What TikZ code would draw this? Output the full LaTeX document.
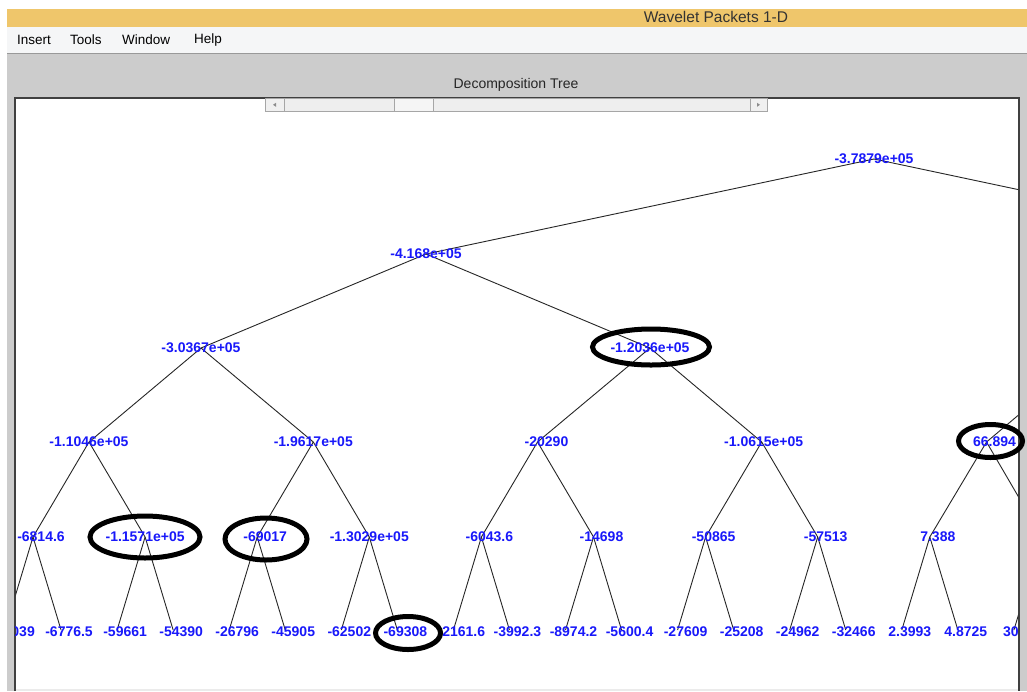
\documentclass[tikz,border=0pt]{standalone}
\usepackage{fontspec}
\setmainfont{Liberation Sans}
\definecolor{titlebar}{RGB}{239,198,107}
\definecolor{menubar}{RGB}{245,246,247}
\definecolor{panel}{RGB}{204,204,204}
\definecolor{labelblue}{RGB}{24,24,250}
\definecolor{scrollfill}{RGB}{238,238,238}
\tikzset{
  lbl/.style={text=labelblue, font=\fontsize{14}{16}\selectfont\bfseries, inner sep=0pt},
  menuitem/.style={anchor=west, inner sep=0pt, text=black, font=\fontsize{13.5}{16}\selectfont},
  branch/.style={draw=black!85, line width=0.9pt},
  mark ring/.style={draw=black, line width=5pt},
  frame/.style={draw=black!75, line width=1.4pt},
  scrollpart/.style={draw=black!35, fill=scrollfill, line width=0.8pt},
}
\begin{document}
\begin{tikzpicture}[x=1pt,y=-1pt]
\useasboundingbox (0,0) rectangle (1027,691);
\fill[white] (0,0) rectangle (1027,691);

% window chrome: title bar, menu bar, grey panel
\fill[titlebar] (7,9) rectangle (1027,27);
\node[inner sep=0pt, text=black!80, font=\fontsize{15.5}{18}\selectfont] (wintitle) at (716,17) {Wavelet Packets 1-D};
\fill[menubar] (7,27) rectangle (1027,53);
\node[menuitem] (mInsert) at (17,40) {Insert};
\node[menuitem] (mTools) at (70,40) {Tools};
\node[menuitem] (mWindow) at (122,40) {Window};
\node[menuitem] (mHelp) at (194,40) {Help};
\draw[black!40, line width=1pt] (7,53) -- (1027,53);
\fill[panel] (7,54) rectangle (1027,691);
\node[inner sep=0pt, text=black!85, font=\fontsize{14}{16}\selectfont] (axtitle) at (516,85) {Decomposition Tree};

% axes area
\fill[white] (15,98) rectangle (1019,689);
\fill[black!8] (15,689) rectangle (1019,691);
\draw[frame] (15,691) -- (15,98) -- (1019,98) -- (1019,691);

% horizontal slider above the tree
\draw[scrollpart] (265,98.5) rectangle (767,111);
\draw[scrollpart, fill=black!6] (265,98.5) rectangle (284,111);
\draw[scrollpart, fill=black!6] (750,98.5) rectangle (767,111);
\draw[scrollpart, fill=black!4] (394,98.5) rectangle (433,111);
\fill[black!45] (273,104.8) -- (276,102.8) -- (276,106.8) -- cycle;
\fill[black!45] (760,104.8) -- (757,102.8) -- (757,106.8) -- cycle;

% tree vertices (level 0 .. 5)
\coordinate (r) at (874,159);
\coordinate (a1) at (426,254);
\coordinate (a2) at (1322,254);
\coordinate (b1) at (201,348);
\coordinate (b2) at (650,348);
\coordinate (b3) at (1098,348);
\coordinate (c1) at (89,442);
\coordinate (c2) at (313.3,442);
\coordinate (c3) at (537.5,442);
\coordinate (c4) at (761.7,442);
\coordinate (c5) at (986.5,442);
\foreach \i in {0,...,9} {
  \coordinate (d\i) at ({33+112.1*\i},537);
}
\foreach \j in {0,...,19} {
  \coordinate (e\j) at ({5+56.05*\j},630);
}

\begin{scope}
\clip (15.7,98.7) rectangle (1018.3,688.5);
% branches
\draw[branch] (r) -- (a1);
\draw[branch] (r) -- (a2);
\draw[branch] (a1) -- (b1);
\draw[branch] (a1) -- (b2);
\draw[branch] (b3) -- (c5);
\draw[branch] (b1) -- (c1);
\draw[branch] (b1) -- (c2);
\draw[branch] (b2) -- (c3);
\draw[branch] (b2) -- (c4);
\draw[branch] (c1) -- (d0);
\draw[branch] (c1) -- (d1);
\draw[branch] (c2) -- (d2);
\draw[branch] (c2) -- (d3);
\draw[branch] (c3) -- (d4);
\draw[branch] (c3) -- (d5);
\draw[branch] (c4) -- (d6);
\draw[branch] (c4) -- (d7);
\draw[branch] (c5) -- (d8);
\draw[branch] (c5) -- (d9);
\foreach \p/\l/\rr in {0/0/1,1/2/3,2/4/5,3/6/7,4/8/9,5/10/11,6/12/13,7/14/15,8/16/17,9/18/19} {
  \draw[branch] (d\p) -- (e\l);
  \draw[branch] (d\p) -- (e\rr);
}

% node values
\node[lbl] (Lr) at (r) {-3.7879e+05};
\node[lbl] (La1) at (a1) {-4.168e+05};
\node[lbl] (Lb1) at (b1) {-3.0367e+05};
\node[lbl] (Lb2) at (b2) {-1.2036e+05};
\node[lbl] (Lc1) at (c1) {-1.1046e+05};
\node[lbl] (Lc2) at (c2) {-1.9617e+05};
\node[lbl, xshift=9pt] (Lc3) at (c3) {-20290};
\node[lbl, xshift=2pt] (Lc4) at (c4) {-1.0615e+05};
\node[lbl, xshift=8pt] (Lc5) at (c5) {66.894};
\node[lbl, xshift=8pt] (Ld0) at (d0) {-6814.6};
\node[lbl] (Ld1) at (d1) {-1.1571e+05};
\node[lbl, xshift=8pt] (Ld2) at (d2) {-69017};
\node[lbl] (Ld3) at (d3) {-1.3029e+05};
\node[lbl, xshift=8pt] (Ld4) at (d4) {-6043.6};
\node[lbl, xshift=8pt] (Ld5) at (d5) {-14698};
\node[lbl, xshift=8pt] (Ld6) at (d6) {-50865};
\node[lbl, xshift=8pt] (Ld7) at (d7) {-57513};
\node[lbl, xshift=8pt] (Ld8) at (d8) {7.388};
\node[lbl, anchor=east, xshift=30pt, yshift=-2pt] (Le0) at (e0) {039};
\foreach \j/\v in {1/-6776.5,2/-59661,3/-54390,4/-26796,5/-45905,6/-62502,7/-69308,8/-2161.6,9/-3992.3,10/-8974.2,11/-5600.4,12/-27609,13/-25208,14/-24962,15/-32466,16/2.3993,17/4.8725} {
  \node[lbl, xshift=8pt, yshift=-2pt] (Le\j) at (e\j) {\v};
}
\node[lbl, anchor=west, xshift=-11pt, yshift=-2pt] (Le18) at (e18) {30};
\end{scope}

% hand-drawn highlight rings
\draw[mark ring] (651,347) ellipse [x radius=58.5, y radius=18];
\draw[mark ring] (990.5,441) ellipse [x radius=32, y radius=16.5];
\draw[mark ring] (145,537) ellipse [x radius=55, y radius=21];
\draw[mark ring] (266,539) ellipse [x radius=41, y radius=21];
\draw[mark ring] (408,633) ellipse [x radius=32.5, y radius=16.5];
\end{tikzpicture}
\end{document}
